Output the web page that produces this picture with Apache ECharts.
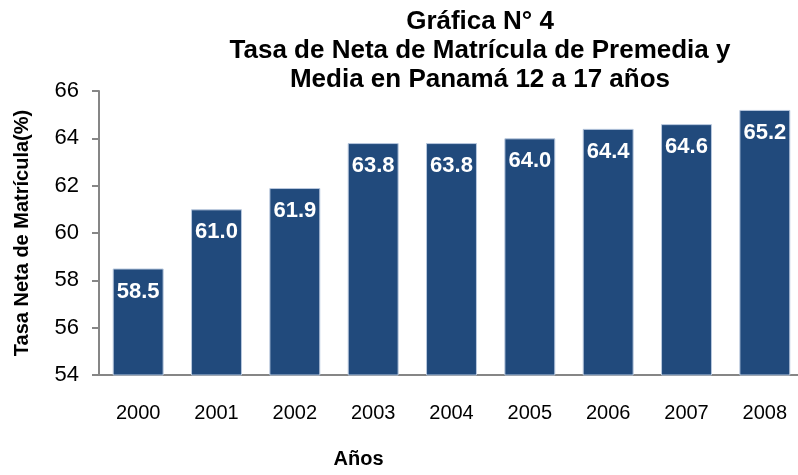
<!DOCTYPE html>
<html>
<head>
<meta charset="utf-8">
<script src="https://cdn.jsdelivr.net/npm/echarts@6/dist/echarts.min.js"></script>
<style>
html,body{margin:0;padding:0;background:#fff;}
#chart{width:798px;height:475px;}
</style>
</head>
<body>
<div id="chart"></div>
<script>
var categories = ['2000','2001','2002','2003','2004','2005','2006','2007','2008'];
var values = [58.5, 61.0, 61.9, 63.8, 63.8, 64.0, 64.4, 64.6, 65.2];
var yTicks = [54, 56, 58, 60, 62, 64, 66];
var titleLines = ['Gráfica N° 4', 'Tasa de Neta de Matrícula de Premedia y', 'Media en Panamá 12 a 17 años'];
var yName = 'Tasa Neta de Matrícula(%)';
var xName = 'Años';

var chart = echarts.init(document.getElementById('chart'), null, {renderer: 'canvas'});
chart.setOption({
  animation: false,
  backgroundColor: '#ffffff',
  title: {
    text: titleLines.join('\n'),
    left: 475,
    textAlign: 'center',
    top: 2,
    textStyle: {
      fontFamily: 'Liberation Sans, Arial, sans-serif',
      fontWeight: 'bold',
      fontSize: 26,
      lineHeight: 29,
      color: '#000'
    }
  },
  grid: {left: 99, top: 91, width: 705, height: 284, containLabel: false, outerBoundsMode: 'none'},
  xAxis: {
    type: 'category',
    data: categories,
    name: xName,
    nameLocation: 'middle',
    nameGap: 74,
    nameTextStyle: {
      fontFamily: 'Liberation Sans, Arial, sans-serif',
      fontWeight: 'bold',
      fontSize: 20,
      color: '#000',
      padding: [0, 0, 0, -186]
    },
    axisLine: {lineStyle: {color: '#868686', width: 2}},
    axisTick: {show: false},
    axisLabel: {
      margin: 28,
      fontFamily: 'Liberation Sans, Arial, sans-serif',
      fontSize: 20,
      color: '#000'
    }
  },
  yAxis: {
    type: 'value',
    min: yTicks[0],
    max: yTicks[yTicks.length - 1],
    interval: 2,
    name: yName,
    nameLocation: 'middle',
    nameGap: 67,
    nameTextStyle: {
      fontFamily: 'Liberation Sans, Arial, sans-serif',
      fontWeight: 'bold',
      fontSize: 20,
      color: '#000'
    },
    axisLine: {show: true, lineStyle: {color: '#868686', width: 2}},
    axisTick: {show: true, length: 7, lineStyle: {color: '#868686', width: 2}},
    splitLine: {show: false},
    axisLabel: {
      margin: 20,
      fontFamily: 'Liberation Sans, Arial, sans-serif',
      fontSize: 22,
      color: '#000'
    }
  },
  series: [{
    type: 'bar',
    data: values,
    barCategoryGap: '35%',
    itemStyle: {color: '#214a7c', borderColor: '#b8c8de', borderWidth: 1},
    label: {
      show: true,
      position: 'insideTop',
      distance: 12,
      formatter: function (p) { return p.value.toFixed(1); },
      fontFamily: 'Liberation Sans, Arial, sans-serif',
      fontWeight: 'bold',
      fontSize: 22,
      color: '#ffffff'
    }
  }]
});
</script>
</body>
</html>
